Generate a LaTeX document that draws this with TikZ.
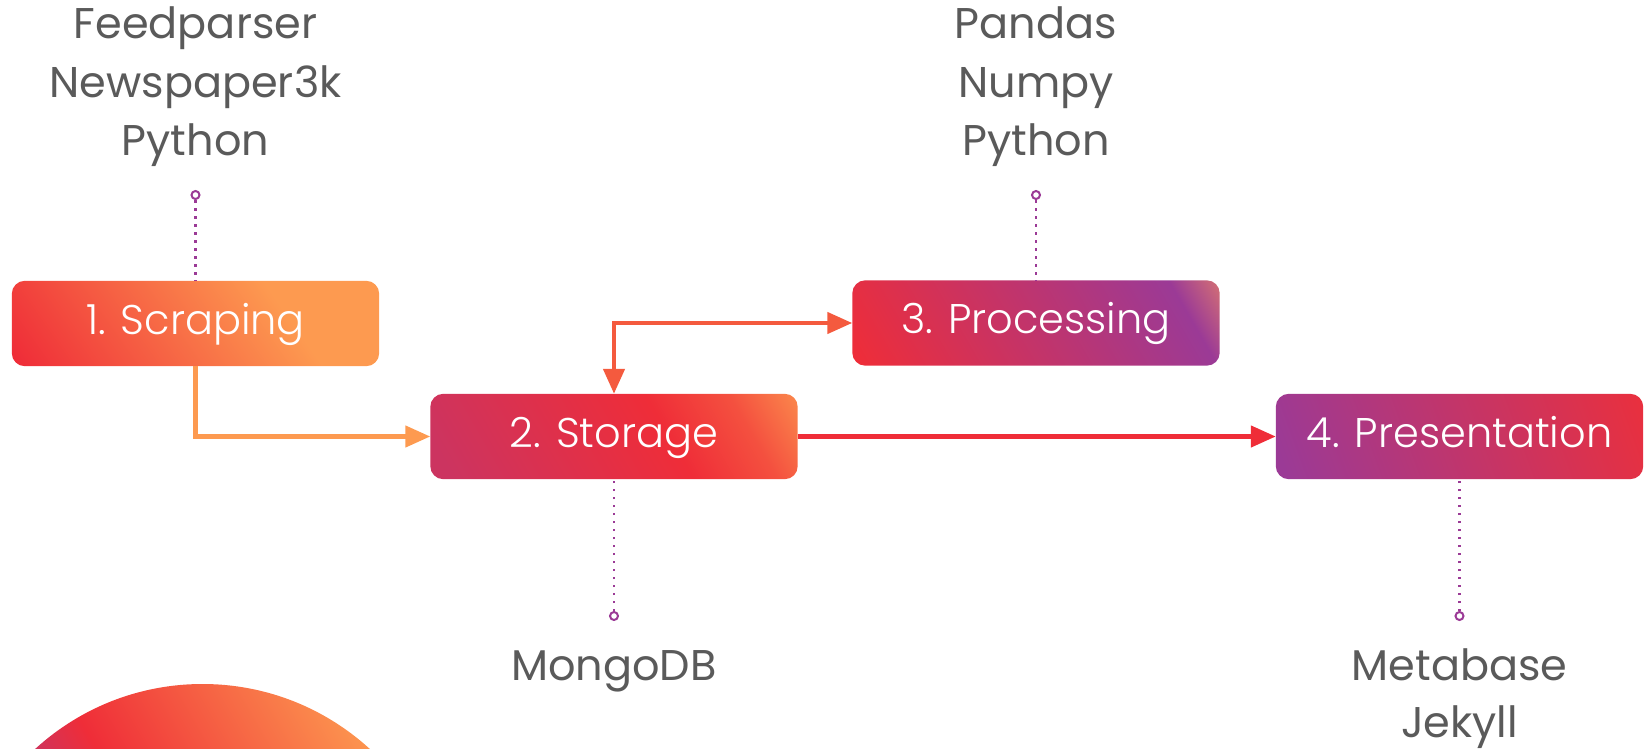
\documentclass[tikz,border=0pt]{standalone}
\usepackage{fontspec}
\setmainfont{Poppins}
\newfontfamily\poplight{Poppins Light}
\usetikzlibrary{arrows.meta,backgrounds}
\definecolor{cred}{HTML}{EF2D38}
\definecolor{corange}{HTML}{FD9A50}
\definecolor{cpurple}{HTML}{9B3A96}
\definecolor{cpred}{HTML}{CC3460}
\definecolor{cgray}{HTML}{5A5A5A}
\definecolor{carrow}{HTML}{F45A3E}
\definecolor{credo}{HTML}{F4503F}
\definecolor{credp}{HTML}{E8303F}
\definecolor{corp}{HTML}{E88468}
% pgf stretches the 25bp..75bp part of a shading over the path (here -200..200 along the rotated axis)
\pgfdeclarehorizontalshading{gScrap}{100bp}{color(0bp)=(cred); color(29bp)=(cred); color(60bp)=(corange); color(100bp)=(corange)}
\pgfdeclarehorizontalshading{gStor}{100bp}{color(0bp)=(cpred); color(30bp)=(cpred); color(56bp)=(cred); color(65bp)=(credo); color(75bp)=(corange); color(100bp)=(corange)}
\pgfdeclarehorizontalshading{gProc}{100bp}{color(0bp)=(cred); color(28bp)=(cred); color(67bp)=(cpurple); color(74.5bp)=(corp); color(100bp)=(corp)}
\pgfdeclarehorizontalshading{gPres}{100bp}{color(0bp)=(cpurple); color(28bp)=(cpurple); color(72.5bp)=(credp); color(100bp)=(credp)}
\pgfdeclarehorizontalshading{gCirc}{100bp}{color(0bp)=(cpred); color(44bp)=(cpred); color(50bp)=(cred); color(75bp)=(corange); color(100bp)=(corange)}
\newcommand\mygradbox[3]{%
  \begin{scope}
    \clip[rounded corners=13pt] (#1.south west) rectangle (#1.north east);
    \shade[shading=#2, transform canvas={shift={(#1.center)}, rotate=#3}] (-200,-200) rectangle (200,200);
  \end{scope}}
\tikzset{
  stage/.style={minimum width=367pt, minimum height=85pt, inner sep=0pt,
    text height=29pt, text depth=8pt,
    text=white, font=\poplight\fontsize{41.5}{45}\selectfont},
  lbl/.style={text=cgray, anchor=base, font=\fontsize{43}{50}\selectfont, inner sep=0pt},
  pinc/.style={circle, draw=cpurple, fill=white, line width=2pt, minimum size=8pt, inner sep=0pt},
  dotline/.style={cpurple, line width=2.5pt, dash pattern=on 2.5pt off 5.5pt},
  arr/.style={line width=4.5pt, -{Triangle[length=25pt,width=21pt]}},
  darr/.style={line width=4.5pt, {Triangle[length=25pt,width=21pt]}-{Triangle[length=25pt,width=21pt]}},
}
\begin{document}
\begin{tikzpicture}[x=1pt,y=-1pt]
\useasboundingbox (0,0) rectangle (1644,749);
% stage boxes
\node[stage] (s1) at (195.5,323.5) {1. Scraping};
\node[stage] (s2) at (614,436.5) {2. Storage};
\node[stage] (s3) at (1036,323) {3. Processing};
\node[stage] (s4) at (1459.5,436.5) {4. Presentation};
\begin{pgfonlayer}{background}
  \begin{scope}
    \clip (0,0) rectangle (1644,749);
    \path[clip] (202.5,932) circle (248);
    \shade[shading=gCirc, transform canvas={shift={(202.5,932)}, rotate=30}] (-250,-250) rectangle (250,250);
  \end{scope}
  \mygradbox{s1}{gScrap}{35}
  \mygradbox{s2}{gStor}{30}
  \mygradbox{s3}{gProc}{30}
  \mygradbox{s4}{gPres}{20}
\end{pgfonlayer}
% labels
\node[lbl] (l1a) at (195.5,39) {Feedparser};
\node[lbl] (l1b) at (195.5,97.5) {Newspaper3k};
\node[lbl] (l1c) at (195.5,156) {Python};
\node[lbl] (l3a) at (1036,39) {Pandas};
\node[lbl] (l3b) at (1036,97.5) {Numpy};
\node[lbl] (l3c) at (1036,156) {Python};
\node[lbl] (l2a) at (614,680) {MongoDB};
\node[lbl] (l4a) at (1459.5,680) {Metabase};
\node[lbl] (l4b) at (1459.5,737) {Jekyll};
% pins
\node[pinc] (p1) at (195.5,195) {};
\node[pinc] (p3) at (1036,195) {};
\node[pinc] (p2) at (614,616) {};
\node[pinc] (p4) at (1459.5,616) {};
\draw[dotline] (p1) -- (s1.north);
\draw[dotline] (p3) -- (s3.north);
\draw[dotline] (p2) -- (s2.south);
\draw[dotline] (p4) -- (s4.south);
% arrows
\draw[arr, corange] (s1.south) |- (s2.west);
\draw[darr, carrow] (s2.north) |- (s3.west);
\draw[arr, cred] (s2.east) -- (s4.west);
\end{tikzpicture}
\end{document}
